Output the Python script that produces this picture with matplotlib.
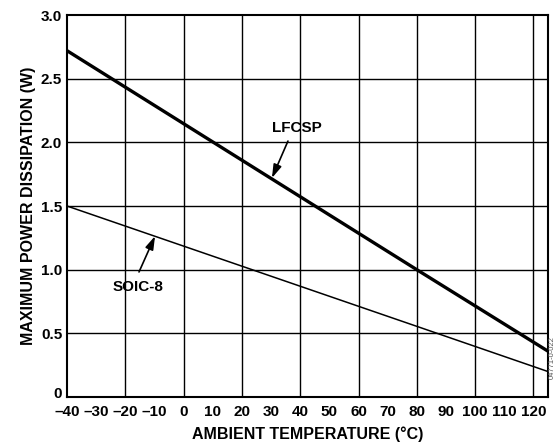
import matplotlib
matplotlib.use("Agg")
import numpy as np
import matplotlib.pyplot as plt
import matplotlib.transforms as mtransforms

# data
temp = [-40, 80, 125]
lfcsp = [2.72, 1.0, 0.36]
soic8 = [1.5, 0.555, 0.20]

xticks = list(range(-40, 130, 10))
yticks = [0, 0.5, 1.0, 1.5, 2.0, 2.5, 3.0]
ytick_labels = ["0", "0.5", "1.0", "1.5", "2.0", "2.5", "3.0"]

plt.rcParams['font.family'] = ['Liberation Sans', 'DejaVu Sans']

fig = plt.figure(figsize=(5.57, 4.42), dpi=100)
ax = fig.add_axes([0.1203, 0.1018, 0.8635, 0.8642])

# grid every 20 degC / 0.5 W
for gx in range(-20, 125, 20):
    ax.axvline(gx, color='black', lw=1.0, zorder=1)
for gy in yticks[1:-1]:
    ax.axhline(gy, color='black', lw=1.0, zorder=1)

ax.plot(temp, lfcsp, color='black', lw=2.4, zorder=3, solid_capstyle='butt')
ax.plot(temp, soic8, color='black', lw=1.1, zorder=3, solid_capstyle='butt')

ax.set_xlim(-40, 125)
ax.set_ylim(0, 3.0)
ax.set_xticks(xticks)
ax.set_xticklabels([str(t).replace('-', '\u2013') for t in xticks], fontweight='bold', fontsize=11)
ax.set_yticks(yticks)
ax.set_yticklabels(ytick_labels, fontweight='bold', fontsize=11)
ax.tick_params(axis='x', length=0, pad=5.5)
ax.tick_params(axis='y', length=0, pad=3.5)
for s in ax.spines.values():
    s.set_linewidth(1.5)

# nudge the "0" label up so it clears the -40 label
zero_lbl = ax.get_yticklabels()[0]
zero_lbl.set_transform(zero_lbl.get_transform() + mtransforms.ScaledTranslation(0, 3 / 72, fig.dpi_scale_trans))

ax.set_xlabel('AMBIENT TEMPERATURE (°C)', fontweight='bold', fontsize=11.5)
ax.set_ylabel('MAXIMUM POWER DISSIPATION (W)', fontweight='bold', fontsize=11.5)
ax.xaxis.set_label_coords(0.5, -0.076)
ax.yaxis.set_label_coords(-0.064, 0.5)

arrow = dict(arrowstyle='-|>,head_length=0.8,head_width=0.25', color='black', lw=1.2, shrinkA=0, shrinkB=0)
ax.annotate('LFCSP', xy=(30.3, 1.72), xytext=(38.9, 2.11), fontweight='bold', fontsize=11,
            ha='center', va='center', zorder=4)
ax.annotate('', xy=(30.3, 1.72), xytext=(35.8, 2.01), arrowprops=arrow, zorder=4)
ax.annotate('SOIC-8', xy=(-9.8, 1.264), xytext=(-15.6, 0.864), fontweight='bold', fontsize=11,
            ha='center', va='center', zorder=4)
ax.annotate('', xy=(-9.8, 1.264), xytext=(-15.3, 0.982), arrowprops=arrow, zorder=4)

fig.text(0.991, 0.19, '04771-0-022', rotation=90, fontsize=5.5, color='#555555',
         ha='center', va='center')

fig.savefig('out.png', dpi=100)
